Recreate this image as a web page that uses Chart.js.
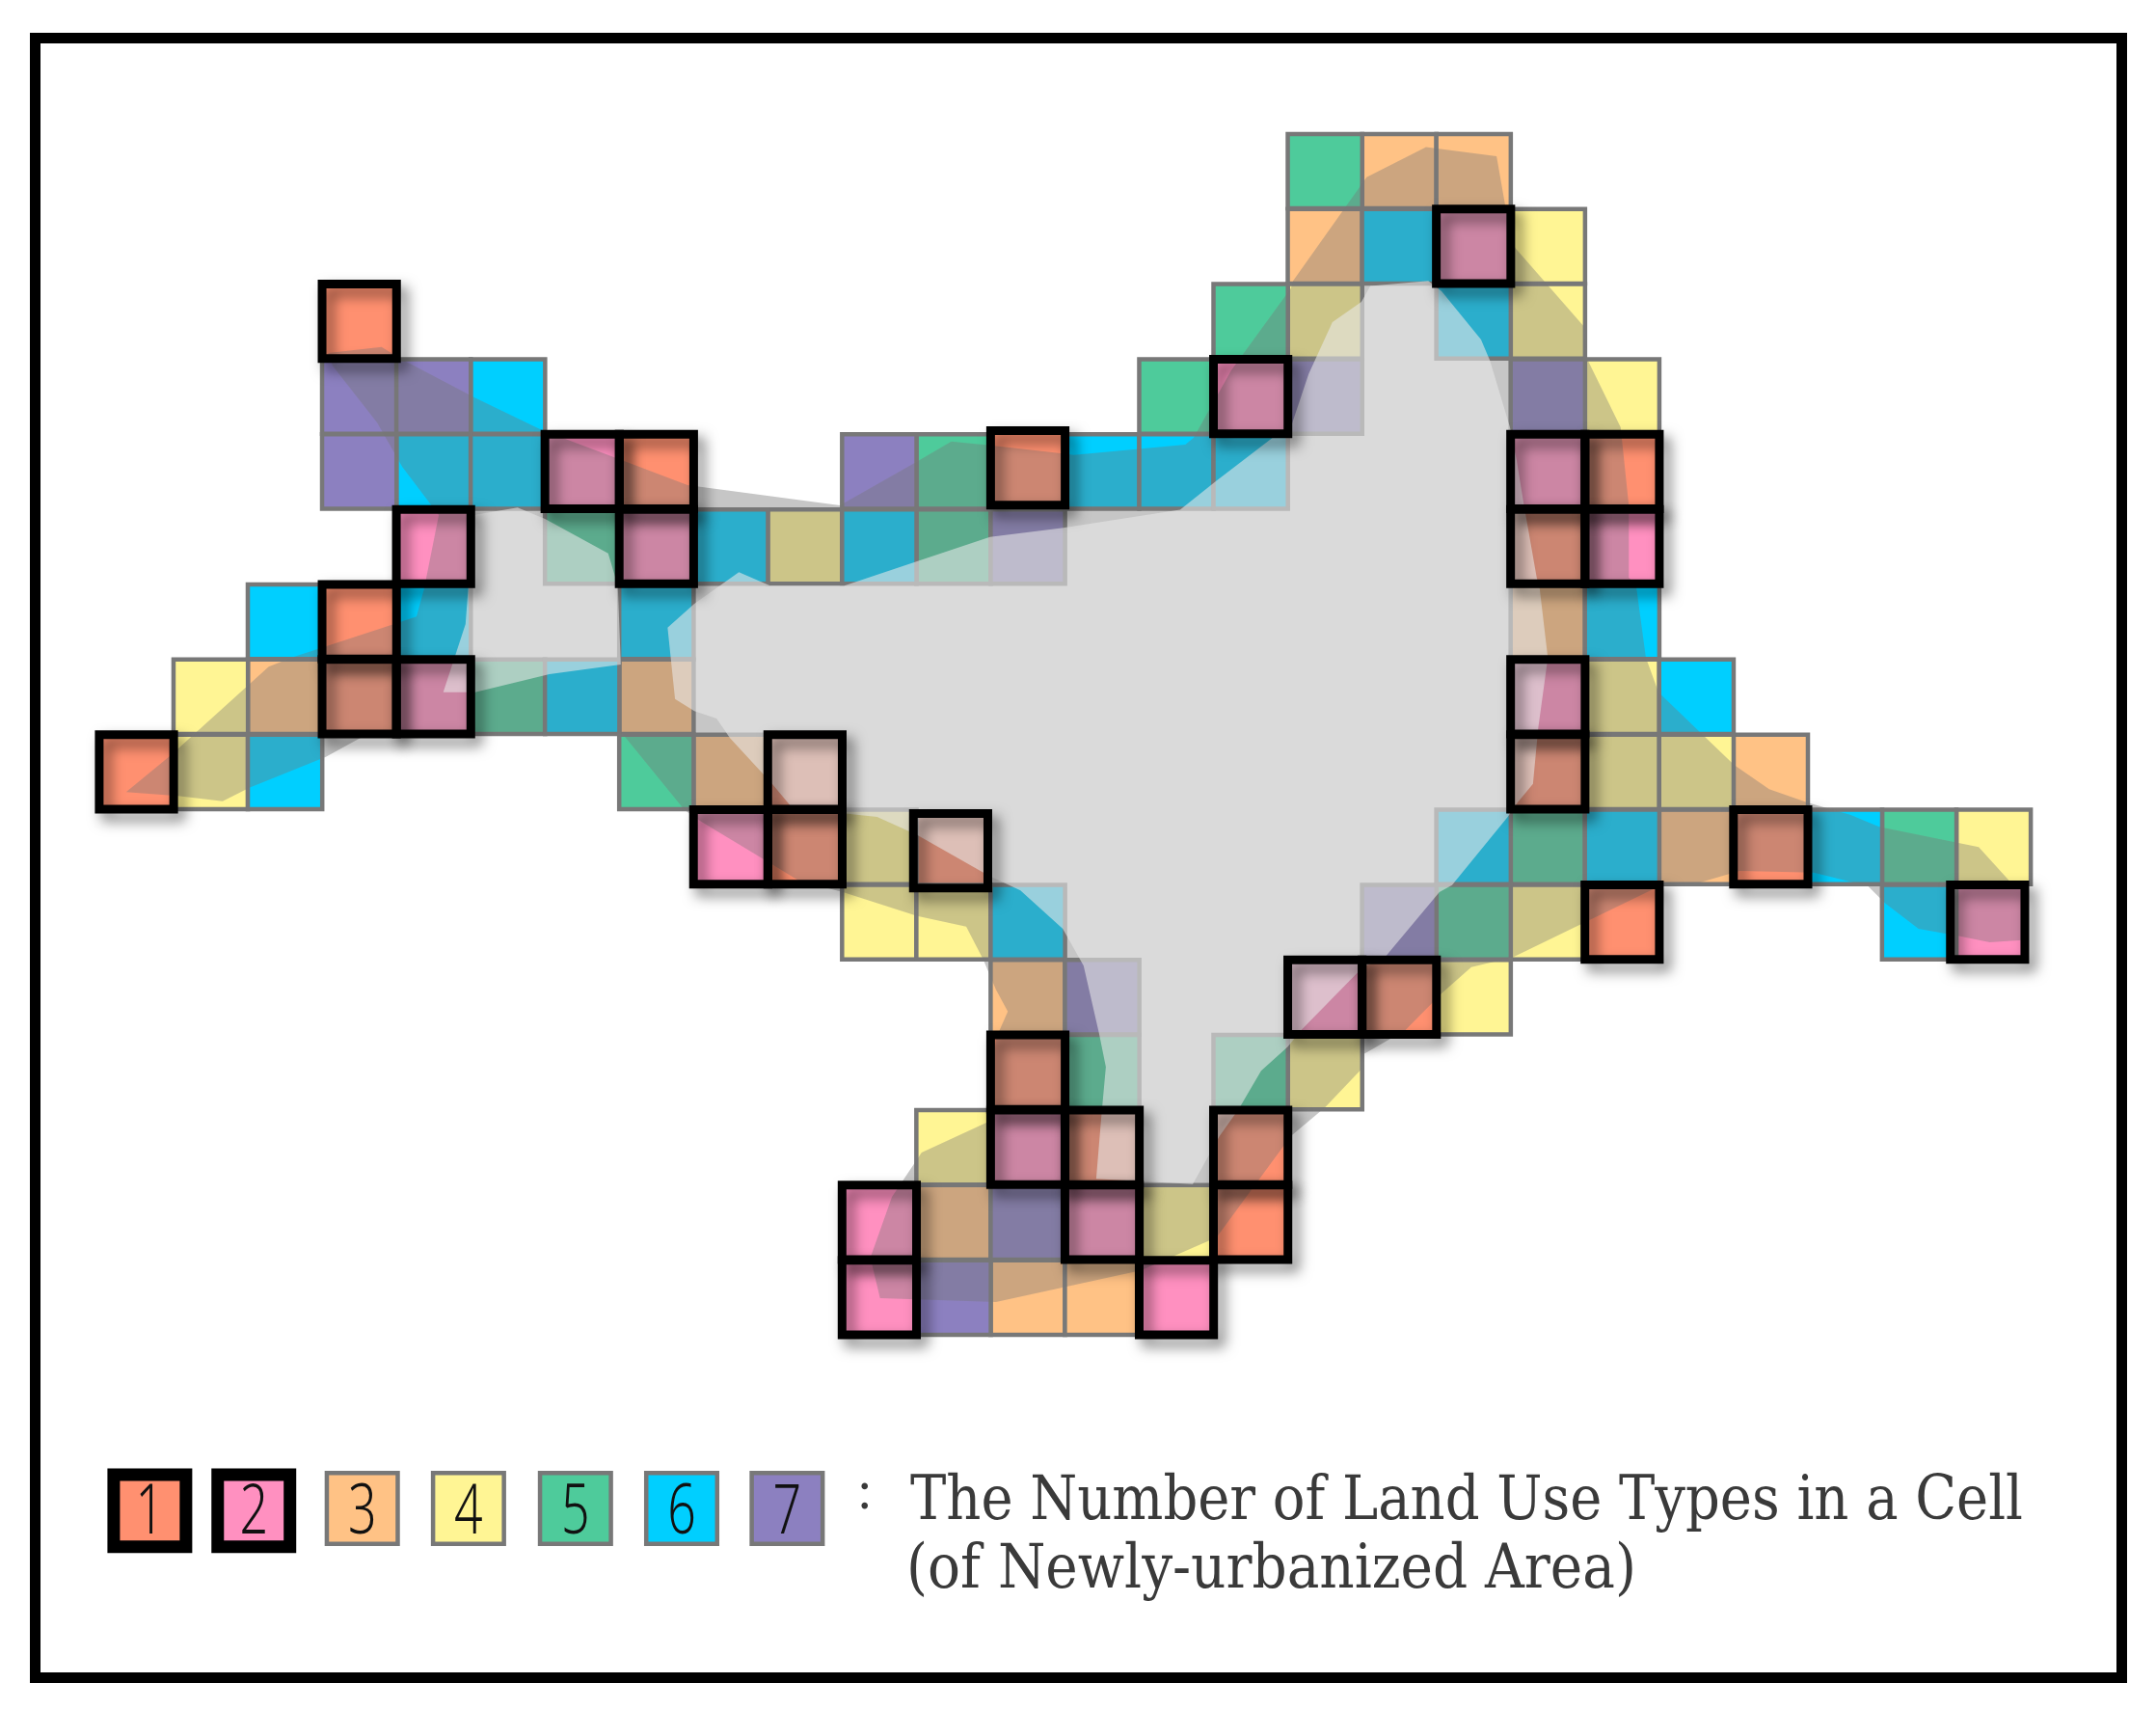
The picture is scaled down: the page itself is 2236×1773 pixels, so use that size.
<!DOCTYPE html>
<html>
<head>
<meta charset="utf-8">
<title>Land use types per cell</title>
<script src="https://cdn.jsdelivr.net/npm/chart.js@4/dist/chart.umd.min.js"></script>
<style>
    html, body { margin: 0; background: #fff; }
    #wrap { position: relative; width: 2236px; height: 1773px; overflow: hidden; }
    #frame { position: absolute; left: 31px; top: 34px; width: 2175px; height: 1711px; box-sizing: border-box; border: 11px solid #000; pointer-events: none; }
    canvas { position: absolute; left: 0; top: 0; }
</style>
</head>
<body>
<div id="wrap">
    <canvas id="map" width="2236" height="1773"></canvas>
    <div id="frame"></div>
</div>
<script>
// cells as [column, row], one list per number of land use types
const typeOneCells = [[3,2],[7,4],[12,3.95],[20,4],[19,5],[3,6],[3,7],[0,8],[9,8],[19,8],[9,9],[10.96,9.05],[22,9],[20,10],[17,11],[12,12],[13,13],[15,13],[15,14]]
const typeTwoCells = [[18,1],[15,3],[6,4],[19,4],[4,5],[7,5],[20,5],[4,7],[19,7],[8,9],[24.92,10],[16,11],[12,13],[10,14],[13,14],[10,15],[14,15]]
const typeThreeCells = [[17,0],[18,0],[16,1],[19,6],[2,7],[7,7],[8,8],[22,8],[21,9],[12,11],[11,14],[12,15],[13,15]]
const typeFourCells = [[19,1],[16,2],[19,2],[20,3],[9,5],[1,7],[20,7],[1,8],[20,8],[21,8],[10,9],[25,9],[10,10],[11,10],[19,10],[18,11],[16,12],[11,13],[14,14]]
const typeFiveCells = [[16,0],[15,2],[14,3],[11,4],[6,5],[11,5],[5,7],[7,8],[19,9],[24,9],[18,10],[13,12],[15,12]]
const typeSixCells = [[17,1],[18,2],[5,3],[4,4],[5,4],[13,4],[14,4],[15,4],[8,5],[10,5],[2,6],[4,6],[7,6],[20,6],[6,7],[21,7],[2,8],[18,9],[20,9],[23,9],[12,10],[24,10]]
const typeSevenCells = [[3,3],[4,3],[16,3],[19,3],[3,4],[10,4],[12,5],[17,10],[13,11],[12,14],[11,15]]

// outline of the urbanized area, in cell units
const outerArea = [[16.07,1.96],[17.06,0.58],[17.86,0.18],[18.81,0.30],[18.93,0.98],[19.06,1.52],[19.98,2.56],[20.03,3.00],[20.48,3.91],[20.59,4.95],[20.59,5.91],[20.69,6.03],[20.82,6.98],[20.99,7.44],[21.59,8.01],[22.01,8.41],[22.48,8.73],[23.00,8.91],[23.57,9.07],[23.96,9.23],[25.30,9.50],[25.73,9.97],[25.92,10.04],[25.88,10.74],[25.45,10.77],[25.00,10.68],[24.49,10.59],[24.04,10.25],[23.81,10.02],[23.08,9.84],[22.08,9.82],[21.46,10.00],[21.05,10.00],[19.03,10.97],[18.47,11.10],[18.07,11.45],[17.58,11.94],[17.02,12.26],[17.00,12.45],[16.50,12.97],[16.04,13.35],[15.04,14.70],[14.02,15.14],[12.07,15.56],[10.51,15.51],[10.38,14.97],[10.67,14.16],[11.07,13.57],[11.97,13.16],[12.07,12.05],[12.23,11.69],[12.07,11.40],[11.90,11.00],[11.67,10.56],[11.01,10.42],[10.01,10.10],[9.42,9.95],[9.09,9.75],[8.10,9.16],[7.88,9.01],[7.05,8.00],[5.13,8.00],[3.60,8.00],[3.05,8.30],[2.02,8.71],[1.66,8.89],[1.06,8.82],[0.36,8.77],[0.96,8.28],[2.28,7.10],[2.61,6.97],[3.97,6.53],[4.27,6.43],[4.37,6.07],[4.57,5.08],[4.08,4.44],[3.74,3.85],[3.14,3.09],[3.08,2.92],[3.80,2.84],[4.04,2.99],[5.06,3.52],[5.96,3.95],[7.09,4.37],[7.92,4.68],[9.97,4.95],[10.97,4.39],[11.47,4.10],[11.99,4.15],[12.97,4.26],[13.12,4.28],[14.62,4.14],[14.73,4.05],[15.24,3.15],[16.04,2.06]]
const innerArea = [[7.65,6.58],[7.75,7.53],[8.01,7.69],[8.31,7.79],[8.49,8.05],[9.05,8.65],[9.32,8.97],[10.01,9.05],[10.47,9.10],[11.01,9.34],[11.97,9.88],[12.40,10.08],[12.97,10.59],[13.25,11.08],[13.46,11.99],[13.55,12.43],[13.49,13.08],[13.42,13.92],[14.72,13.99],[15.08,13.35],[15.34,12.99],[15.64,12.48],[16.00,12.16],[16.19,11.93],[17.02,11.09],[17.28,11.00],[18.04,10.10],[18.21,10.01],[18.96,9.10],[19.09,8.91],[19.30,8.66],[19.37,7.92],[19.50,6.98],[19.39,6.06],[19.35,5.91],[19.17,4.90],[19.08,4.35],[18.99,3.91],[18.72,3.02],[18.60,2.74],[18.07,2.10],[17.89,1.96],[17.11,2.03],[16.99,2.24],[16.60,2.51],[16.28,3.20],[16.04,3.91],[15.86,4.00],[15.03,4.63],[14.55,5.01],[12.98,5.25],[11.99,5.37],[10.97,5.71],[10.03,6.02],[9.03,6.02],[8.61,5.84],[8.01,6.26]]
const innerLobe = [[5.63,4.98],[6.00,5.13],[6.85,5.59],[6.98,6.02],[7.02,7.07],[6.06,7.20],[5.06,7.44],[4.63,7.44],[4.93,6.53],[5.04,5.08]]

// legend row
const legendLabels = ['1','2','3','4','5','6','7']
const legendX = [0.68,2.08,3.54,4.97,6.41,7.84,9.26]
const legendY = [18.34,18.34,18.31,18.31,18.31,18.31,18.31]
const captionLines = ['The Number of Land Use Types in a Cell','(of Newly-urbanized Area)']

const TYPE_COLORS = ['#ff9070','#ff90c0','#ffc285','#fff594','#4ecb9b','#00cfff','#8c80c0']
const GRID_LINE = '#787878'
const CELL_RADIUS = 54.6

const toCenters = cells => cells.map(([c, r]) => ({ x: c + 0.5, y: r + 0.5 }))
const toPoints = area => area.map(([x, y]) => ({ x, y }))

function cellLayer(cells, color) {
    return {
        data: toCenters(cells),
        pointStyle: 'rect',
        pointRadius: CELL_RADIUS,
        backgroundColor: color,
        borderColor: GRID_LINE,
        borderWidth: 4.5
    }
}

function areaLayer(area, fill, composite) {
    return { data: toPoints(area), pointRadius: 0, areaFill: fill, composite }
}

function thickLayer(cells) {
    return {
        data: toCenters(cells),
        pointStyle: 'rect',
        pointRadius: CELL_RADIUS,
        backgroundColor: 'rgba(0,0,0,0)',
        borderColor: '#000',
        borderWidth: 9,
        dropShadow: true
    }
}

// listed bottom to top, chart.js draws the highest order first
const layers = [
    cellLayer(typeOneCells, TYPE_COLORS[0]),
    cellLayer(typeTwoCells, TYPE_COLORS[1]),
    cellLayer(typeThreeCells, TYPE_COLORS[2]),
    cellLayer(typeFourCells, TYPE_COLORS[3]),
    cellLayer(typeFiveCells, TYPE_COLORS[4]),
    cellLayer(typeSixCells, TYPE_COLORS[5]),
    cellLayer(typeSevenCells, TYPE_COLORS[6]),
    areaLayer(outerArea, 'rgba(118,118,118,0.37)', 'source-atop'),
    areaLayer(outerArea, '#c6c6c6', 'destination-over'),
    areaLayer(innerArea, 'rgba(233,233,233,0.58)', 'source-over'),
    areaLayer(innerLobe, 'rgba(233,233,233,0.58)', 'source-over'),
    thickLayer(typeOneCells),
    thickLayer(typeTwoCells),
    {
        data: legendX.map((x, i) => ({ x, y: legendY[i] })),
        pointStyle: 'rect',
        pointRadius: [53, 53, 52, 52, 52, 52, 52],
        backgroundColor: TYPE_COLORS,
        borderColor: ['#000', '#000', GRID_LINE, GRID_LINE, GRID_LINE, GRID_LINE, GRID_LINE],
        borderWidth: [13, 13, 4.5, 4.5, 4.5, 4.5, 4.5]
    }
]
layers.forEach((layer, i) => { layer.order = layers.length - i })

const layerPlugin = {
    id: 'layers',
    beforeDatasetDraw(chart, args) {
        const ds = chart.data.datasets[args.index]
        const ctx = chart.ctx

        if (ds.areaFill) {
            ctx.save()
            ctx.globalCompositeOperation = ds.composite
            ctx.fillStyle = ds.areaFill
            ctx.beginPath()
            args.meta.data.forEach((pt, i) => i ? ctx.lineTo(pt.x, pt.y) : ctx.moveTo(pt.x, pt.y))
            ctx.closePath()
            ctx.fill()
            ctx.restore()
            return false
        }

        if (ds.dropShadow) {
            ctx.save()
            ctx.shadowColor = 'rgba(0,0,0,0.5)'
            ctx.shadowBlur = 14
            ctx.shadowOffsetX = 7
            ctx.shadowOffsetY = 8
        }
    },
    afterDatasetDraw(chart, args) {
        if (chart.data.datasets[args.index].dropShadow) chart.ctx.restore()
    },
    afterDatasetsDraw(chart) {
        const { ctx, scales } = chart

        ctx.save()
        ctx.fillStyle = '#111'
        ctx.textAlign = 'center'
        ctx.textBaseline = 'alphabetic'
        ctx.font = '300 72px "Noto Sans"'
        legendLabels.forEach((label, i) => {
            ctx.save()
            ctx.translate(scales.x.getPixelForValue(legendX[i]), 1590)
            ctx.scale(0.72, 1)
            ctx.fillText(label, 0, 0)
            ctx.restore()
        })

        ctx.fillStyle = '#3a3a3a'
        ctx.textAlign = 'left'
        ctx.font = '56px "Liberation Serif"'
        ctx.fillText(':', 889, 1564)
        ctx.font = '64px "DejaVu Serif Condensed", "DejaVu Serif"'
        ctx.fillText(captionLines[0], 944, 1575, 1154)
        ctx.fillText(captionLines[1], 940, 1646, 757)
        ctx.restore()
    }
}

new Chart(document.getElementById('map').getContext('2d'), {
    type: 'scatter',
    data: { datasets: layers },
    options: {
        responsive: false,
        devicePixelRatio: 1,
        animation: false,
        clip: false,
        layout: { padding: 0, autoPadding: false },
        plugins: {
            legend: { display: false },
            tooltip: { enabled: false }
        },
        scales: {
            x: { display: false, min: -1.337, max: 27.687 },
            y: { display: false, min: -1.78, max: 20.994, reverse: true }
        }
    },
    plugins: [layerPlugin]
})
</script>
</body>
</html>
